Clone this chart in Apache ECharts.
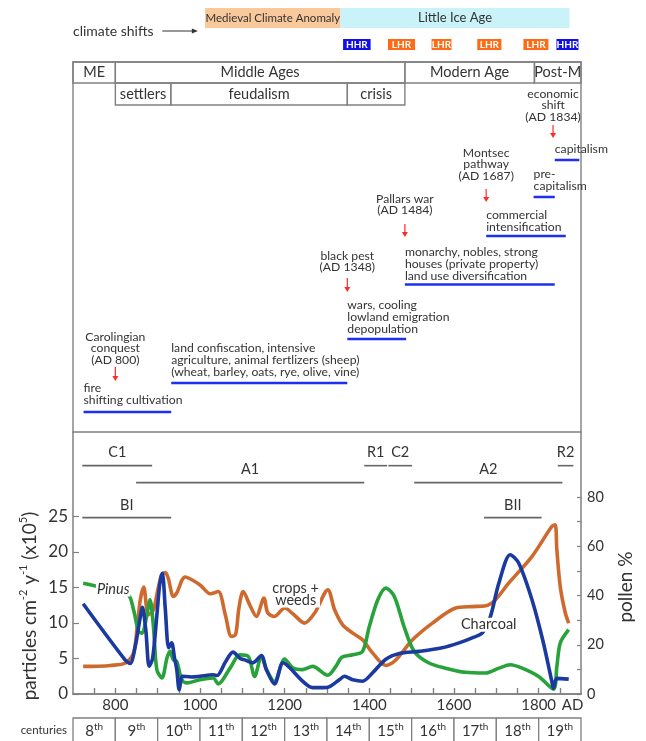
<!DOCTYPE html>
<html><head><meta charset="utf-8">
<script src="https://cdn.jsdelivr.net/npm/echarts@6/dist/echarts.min.js"></script>
<style>html,body{margin:0;padding:0;background:#fff}#c{width:646px;height:741px}</style>
</head><body><div id="c"></div>
<script>
// ---------------- DATA ----------------
const yearMin = 700, yearMax = 1900;
const xTickValues = [750,800,850,900,950,1000,1050,1100,1150,1200,1250,1300,1350,1400,1450,1500,1550,1600,1650,1700,1750,1800,1850];
const xLabelValues = [800,1000,1200,1400,1600,1800];
const xEndLabel = 'AD';
const leftTicks = [0,5,10,15,20,25];
const rightTicks = [0,10,20,30,40,50,60,70,80];
const rightLabels = [0,20,40,60,80];

// Charcoal (particles cm-2 y-1 x10^5, left axis)
const charcoalYears  = [724,823,835,847,858,864,872,880,888,898,905,911,918,926,933,940,945,951,959,980,1000,1031,1040,1060,1078,1095,1106,1125,1145,1157,1176,1196,1212,1239,1266,1290,1305,1329,1341,1361,1384,1408,1439,1471,1518,1572,1612,1643,1667,1686,1706,1733,1753,1784,1810,1831,1835,1843,1871];
const charcoalValues = [12.7,4.8,4.3,6.7,10.5,12.2,9.0,3.9,5.0,11.0,15.5,17.0,12.0,6.5,7.2,5.0,3.5,0.6,2.5,2.4,2.5,2.7,2.6,4.5,5.9,5.0,4.8,4.4,5.4,3.4,1.4,4.4,3.7,2.0,0.9,0.9,1.0,2.0,2.5,2.0,1.8,3.0,4.9,5.7,6.0,6.5,7.2,7.9,8.6,10.9,15.6,19.6,18.4,13.3,7.5,1.8,0.8,2.2,2.1];

// Pinus (pollen %, right axis)
const pinusYears  = [724,760,800,831,843,855,863,874,882,890,898,910,922,929,937,945,957,969,1000,1031,1043,1071,1094,1114,1129,1145,1157,1176,1200,1220,1243,1266,1302,1321,1335,1361,1384,1400,1420,1439,1459,1482,1506,1541,1580,1627,1675,1706,1733,1761,1800,1835,1843,1851,1871];
const pinusValues = [45.0,43.6,41.8,40.3,34.2,25.4,24.7,31.5,38.3,27.4,9.9,6.5,14.6,17.3,13.9,13.2,5.8,4.5,5.8,6.5,4.1,10.5,15.9,15.3,7.1,15.3,9.9,5.1,14.2,10.5,9.9,11.2,7.6,11.2,14.9,15.9,17.3,27.4,38.3,43.0,39.6,27.4,17.3,12.6,10.5,8.8,8.5,10.5,11.9,10.5,7.1,2.0,11.2,20.7,26.1];

// Crops + weeds (pollen %, right axis)
const cropsYears  = [724,760,788,824,843,852,859,867,878,890,900,910,918,925,937,945,965,1000,1024,1043,1060,1074,1084,1092,1102,1118,1133,1151,1160,1176,1200,1220,1247,1271,1302,1318,1337,1361,1384,1408,1439,1463,1502,1549,1604,1643,1675,1698,1729,1784,1831,1839,1843,1851,1863,1871];
const cropsValues = [11.2,11.3,11.6,12.6,16.6,28.0,38.3,43.4,32.2,34.2,42.0,48.5,49.3,47.0,39.6,41.0,47.5,44.3,40.7,41.6,32.0,23.4,24.1,35.0,41.6,36.0,31.5,39.0,33.0,31.5,34.9,32.5,28.8,32.9,42.3,34.2,28.1,24.7,22.0,16.6,11.6,13.9,22.0,28.8,34.9,35.5,35.8,38.3,45.0,55.8,68.0,68.7,58.5,43.6,32.9,28.8];

// curve labels (year, left-axis value)
const curveLabelTexts  = ['Pinus','crops +\nweeds','Charcoal'];
const curveLabelYears  = [795,1226,1682];
const curveLabelValues = [14.7,14.0,9.75];

// phases drawn above the curves
const phaseNames = ['C1','A1','R1','C2','A2','R2','BI','BII'];
const phaseStart = [722,849,1388,1445,1506,1845,722,1671];
const phaseEnd   = [887,1388,1442,1501,1856,1882,932,1807];
const phaseRow   = [0,1,0,0,1,0,2,2];

// climate shifts
const climateNames = ['Medieval Climate Anomaly','Little Ice Age'];
const climateStart = [1012,1332];
const climateEnd   = [1332,1873];
const regimeNames = ['HHR','LHR','LHR','LHR','LHR','HHR'];
const regimeStart = [1338,1444,1547,1655,1764,1842];
const regimeEnd   = [1403,1508,1594,1712,1823,1894];

// historical periods
const period1Names = ['ME','Middle Ages','Modern Age','Post-M'];
const period1Start = [700,800,1484,1790];
const period1End   = [800,1484,1790,1900];
const period2Names = ['settlers','feudalism','crisis'];
const period2Start = [800,931,1348];
const period2End   = [931,1348,1484];

// events and land-use practices
const eventTitles = ['Carolingian\nconquest\n(AD 800)','black pest\n(AD 1348)','Pallars war\n(AD 1484)','Montsec\npathway\n(AD 1687)','economic\nshift\n(AD 1834)'];
const eventYears  = [800,1348,1484,1676,1834];
const practiceTexts = ['fire\nshifting cultivation',
  'land confiscation, intensive\nagriculture, animal fertlizers (sheep)\n(wheat, barley, oats, rye, olive, vine)',
  'wars, cooling\nlowland emigration\ndepopulation',
  'monarchy, nobles, strong\nhouses (private property)\nland use diversification',
  'commercial\nintensification','pre-\ncapitalism','capitalism'];
const practiceStart = [725,932,1348,1484,1676,1788,1838];
const practiceEnd   = [932,1348,1487,1838,1864,1838,1896];

// centuries
const centuryNames = ['8','9','10','11','12','13','14','15','16','17','18','19'];
const centuryStart = [700,800,900,1000,1100,1200,1300,1400,1500,1600,1700,1800];

// ---------------- LAYOUT / STYLE ----------------
const L = {
  climateTop: 8, climateBottom: 28, regimeTop: 39, regimeBottom: 50,
  frameTop: 62, row1Bottom: 83, row2Bottom: 105, frameBottom: 432,
  shiftsY: 31, shiftsArrowFrom: 911, shiftsArrowTo: 995,
  eventTitleTop: [331,250,193,147,88],
  arrowTop: [367,278,224,189,125],
  arrowBottom: [381,292,237,202,138],
  practiceTop: [382.5,342.5,299.5,246.5,209.5,168.5,143.5],
  underline: [412,383,339,284.5,236,197,160],
  lineH: 11.7,
  phaseLine: [32.14,29.75,24.83],
  phaseLabel: [33.97,31.58,26.51],
  endLabelYear: 1880
};
const FONT = 'Lato, "Open Sans", sans-serif';
const TXT = '#333';
const GRAY = '#808080';
const BLUE = '#1a3aa0', GREEN = '#28a23a', ORANGE = '#cf6a2f';
const UL = '#1f2ff0', RED = '#ff2a2a';
const ANN = 12.2;

function zip(a,b){ return a.map((x,i)=>[x,b[i]]); }
function T(x,y,text,o){
  o = o || {};
  const st = {text, fill:o.fill||TXT, fontSize:o.size||12, fontFamily:FONT,
    fontStyle:o.style||'normal', fontWeight:o.weight||'normal',
    align:o.align||'center', verticalAlign:o.va||'middle'};
  if (o.lh) st.lineHeight = o.lh;
  if (o.bg) { st.backgroundColor = o.bg; st.padding = o.pad||[0,0]; }
  return {type:'text', x, y, silent:true, style:st};
}
function R(a,b,fill,stroke,lw){
  return {type:'rect', shape:{x:a[0], y:a[1], width:b[0]-a[0], height:b[1]-a[1]},
    style:{fill:fill||'none', stroke:stroke||null, lineWidth:lw||0}};
}
function Ln(a,b,color,w){
  return {type:'line', shape:{x1:a[0],y1:a[1],x2:b[0],y2:b[1]}, style:{stroke:color, lineWidth:w, fill:null}};
}

// ---------------- CHART ----------------
const chart = echarts.init(document.getElementById('c'), null, {renderer:'canvas', width:646, height:741});

const upperRender = (params, api) => {
  const ch = [];
  const sp = api.coord([yearMin, L.shiftsY]);
  ch.push(T(sp[0], sp[1], 'climate shifts', {size:14, align:'left'}));
  const a1 = api.coord([L.shiftsArrowFrom, L.shiftsY]), a2 = api.coord([L.shiftsArrowTo, L.shiftsY]);
  ch.push(Ln(a1, [a2[0]-5, a2[1]], '#333', 1));
  ch.push({type:'polygon', shape:{points:[[a2[0]-6,a2[1]-2.5],[a2[0]-6,a2[1]+2.5],[a2[0],a2[1]]]}, style:{fill:'#333'}});
  climateNames.forEach((n,i)=>{
    const a = api.coord([climateStart[i], L.climateTop]), b = api.coord([climateEnd[i], L.climateBottom]);
    ch.push(R(a,b, i===0?'#f9c89b':'#c9f3f8'));
    ch.push(T((a[0]+b[0])/2, (a[1]+b[1])/2, n, {size: i===0?11.5:13}));
  });
  regimeNames.forEach((n,i)=>{
    const a = api.coord([regimeStart[i], L.regimeTop]), b = api.coord([regimeEnd[i], L.regimeBottom]);
    ch.push(R(a,b, n==='HHR'?'#1010e8':'#ff6a14'));
    ch.push(T((a[0]+b[0])/2, (a[1]+b[1])/2+0.5, n, {size:10, weight:'bold', fill:'#fff'}));
  });
  ch.push(R(api.coord([yearMin, L.frameTop]), api.coord([yearMax, L.frameBottom]), 'none', GRAY, 1.4));
  period1Names.forEach((n,i)=>{
    const a = api.coord([period1Start[i], L.frameTop]), b = api.coord([period1End[i], L.row1Bottom]);
    ch.push(R(a,b,'none',GRAY,1.4));
    ch.push(T((a[0]+b[0])/2, (a[1]+b[1])/2, n, {size:14.5}));
  });
  period2Names.forEach((n,i)=>{
    const a = api.coord([period2Start[i], L.row1Bottom]), b = api.coord([period2End[i], L.row2Bottom]);
    ch.push(R(a,b,'none',GRAY,1.4));
    ch.push(T((a[0]+b[0])/2, (a[1]+b[1])/2, n, {size:14.5}));
  });
  eventTitles.forEach((t,i)=>{
    const p = api.coord([eventYears[i], L.eventTitleTop[i]]);
    ch.push(T(p[0], p[1], t, {size:ANN, va:'top', lh:L.lineH}));
    const at = api.coord([eventYears[i], L.arrowTop[i]]), ab = api.coord([eventYears[i], L.arrowBottom[i]]);
    ch.push(Ln(at, [ab[0], ab[1]-4], RED, 1.2));
    ch.push({type:'polygon', shape:{points:[[ab[0]-3,ab[1]-5],[ab[0]+3,ab[1]-5],[ab[0],ab[1]]]}, style:{fill:RED}});
  });
  practiceTexts.forEach((t,i)=>{
    const p = api.coord([practiceStart[i], L.practiceTop[i]]);
    ch.push(T(p[0], p[1], t, {size:ANN, va:'top', align:'left', lh:L.lineH}));
    const u1 = api.coord([practiceStart[i], L.underline[i]]), u2 = api.coord([practiceEnd[i], L.underline[i]]);
    ch.push(Ln(u1, u2, UL, 2.5));
  });
  return {type:'group', children:ch};
};

const phaseRender = (params, api) => {
  const ch = [];
  phaseNames.forEach((n,i)=>{
    const a = api.coord([phaseStart[i], L.phaseLine[phaseRow[i]]]);
    const b = api.coord([phaseEnd[i], L.phaseLine[phaseRow[i]]]);
    ch.push(Ln(a,b,'#666',1.6));
    const c = api.coord([(phaseStart[i]+phaseEnd[i])/2, L.phaseLabel[phaseRow[i]]]);
    ch.push(T(c[0], c[1], n, {size:14.5}));
  });
  return {type:'group', children:ch};
};

const curveLabelRender = (params, api) => {
  const ch = curveLabelTexts.map((t,i)=>{
    const p = api.coord([curveLabelYears[i], curveLabelValues[i]]);
    return T(p[0], p[1], t, {size:14.5, lh:12, style: t==='Pinus'?'italic':'normal', bg:'#fff', pad:[1,1]});
  });
  return {type:'group', children:ch};
};

const tableRender = (params, api) => {
  const i = params.dataIndex;
  const a = api.coord([centuryStart[i], 1]), b = api.coord([centuryStart[i]+100, 0]);
  return {type:'group', children:[
    R(a, [b[0], b[1]+3], '#fff', GRAY, 1.3),
    {type:'text', x:(a[0]+b[0])/2, y:a[1]+13, silent:true, style:{
      text:'{n|'+centuryNames[i]+'}{s|th}', align:'center', verticalAlign:'middle',
      rich:{n:{fontSize:15, fontFamily:FONT, fill:TXT, lineHeight:18},
            s:{fontSize:10, fontFamily:FONT, fill:TXT, lineHeight:12, verticalAlign:'top'}}}}
  ]};
};

const axisLine = {show:true, lineStyle:{color:GRAY, width:1.5}};

chart.setOption({
  animation:false,
  backgroundColor:'#fff',
  grid:[
    {left:73, right:65, top:432, bottom:47},
    {left:73, right:65, top:0, bottom:309},
    {left:73, right:65, top:718, bottom:0}
  ],
  xAxis:[
    {gridIndex:0, type:'value', min:yearMin, max:yearMax, position:'bottom',
     axisLine, splitLine:{show:false},
     axisTick:{show:true, inside:true, length:6, customValues:xTickValues, lineStyle:{color:GRAY, width:1.2}},
     axisLabel:{customValues:xLabelValues.concat([L.endLabelYear]), formatter:v=> v===L.endLabelYear?xEndLabel:String(v),
       fontSize:15, fontFamily:FONT, color:TXT, margin:4}},
    {gridIndex:0, type:'value', min:yearMin, max:yearMax, position:'top',
     axisLine, splitLine:{show:false},
     axisTick:{show:true, inside:false, length:6, customValues:xTickValues, lineStyle:{color:GRAY, width:1.2}},
     axisLabel:{show:false}},
    {gridIndex:1, type:'value', min:yearMin, max:yearMax, show:false},
    {gridIndex:2, type:'value', min:yearMin, max:yearMax, show:false}
  ],
  yAxis:[
    {gridIndex:0, type:'value', min:0, max:36.88, position:'left', axisLine, splitLine:{show:false},
     axisTick:{show:true, inside:true, length:6, customValues:leftTicks, lineStyle:{color:GRAY, width:1.2}},
     axisLabel:{customValues:leftTicks, fontSize:17, fontFamily:FONT, color:TXT, margin:5}},
    {gridIndex:0, type:'value', min:0, max:106.4, position:'right', axisLine, splitLine:{show:false},
     axisTick:{show:true, inside:true, length:4, customValues:rightTicks, lineStyle:{color:GRAY, width:1.2}},
     axisLabel:{customValues:rightLabels, fontSize:14.5, fontFamily:FONT, color:TXT, margin:6}},
    {gridIndex:1, type:'value', min:0, max:432, inverse:true, show:false},
    {gridIndex:2, type:'value', min:0, max:1, show:false}
  ],
  graphic:[
    {type:'text', x:30, y:606, rotation:Math.PI/2, silent:true, style:{
      text:'{m|particles cm}{s|-2}{m| y}{s|-1}{m| (x10}{s|5}{m|)}', align:'center', verticalAlign:'middle',
      rich:{m:{fontSize:19, fontFamily:FONT, fill:TXT, lineHeight:24},
            s:{fontSize:11, fontFamily:FONT, fill:TXT, lineHeight:12, verticalAlign:'top'}}}},
    {type:'text', x:626, y:587, rotation:Math.PI/2, silent:true, style:{
      text:'pollen %', align:'center', verticalAlign:'middle', fontSize:19, fontFamily:FONT, fill:TXT}},
    {type:'text', x:67, y:730, silent:true, style:{
      text:'centuries', align:'right', verticalAlign:'middle', fontSize:11.5, fontFamily:FONT, fill:TXT}}
  ],
  series:[
    {type:'line', name:'crops + weeds', xAxisIndex:0, yAxisIndex:1, data:zip(cropsYears, cropsValues),
     smooth:0.3, showSymbol:false, lineStyle:{color:ORANGE, width:3.6}, z:2},
    {type:'line', name:'Pinus', xAxisIndex:0, yAxisIndex:1, data:zip(pinusYears, pinusValues),
     smooth:0.3, showSymbol:false, lineStyle:{color:GREEN, width:3.6}, z:3},
    {type:'line', name:'Charcoal', xAxisIndex:0, yAxisIndex:0, data:zip(charcoalYears, charcoalValues),
     smooth:0.3, showSymbol:false, lineStyle:{color:BLUE, width:3.6}, z:4},
    {type:'custom', xAxisIndex:0, yAxisIndex:0, data:[[yearMin,0]], renderItem:curveLabelRender, z:10, clip:false, silent:true},
    {type:'custom', xAxisIndex:0, yAxisIndex:0, data:[[yearMin,0]], renderItem:phaseRender, z:10, clip:false, silent:true},
    {type:'custom', xAxisIndex:2, yAxisIndex:2, data:[[yearMin,0]], renderItem:upperRender, z:10, clip:false, silent:true},
    {type:'custom', xAxisIndex:3, yAxisIndex:3, data:centuryStart.map((s,i)=>[s,0,i]), renderItem:tableRender, z:10, clip:false, silent:true}
  ]
});
</script>
</body></html>
